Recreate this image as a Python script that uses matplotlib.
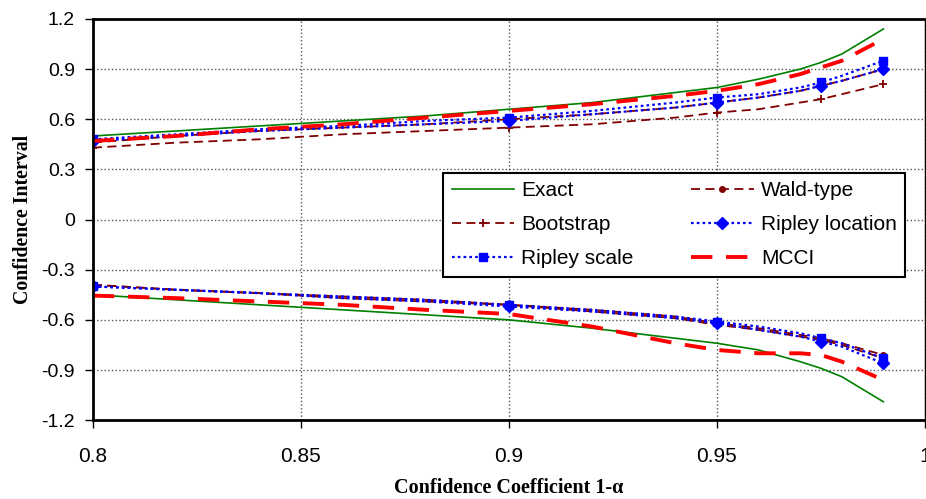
import matplotlib
matplotlib.use('Agg')
import matplotlib.pyplot as plt

# confidence coefficient grid
conf = [0.80, 0.82, 0.84, 0.86, 0.88, 0.90, 0.92, 0.94, 0.95, 0.96, 0.97, 0.975, 0.98, 0.99]
mark_idx = [0, 5, 8, 11, 13]

# upper limits
exact_up = [0.50, 0.53, 0.56, 0.59, 0.62, 0.66, 0.70, 0.76, 0.79, 0.84, 0.90, 0.94, 0.99, 1.14]
wald_up = [0.46, 0.50, 0.53, 0.55, 0.57, 0.60, 0.63, 0.67, 0.70, 0.73, 0.77, 0.80, 0.83, 0.90]
boot_up = [0.43, 0.46, 0.48, 0.51, 0.53, 0.55, 0.57, 0.61, 0.64, 0.66, 0.70, 0.72, 0.75, 0.81]
rip_loc_up = [0.47, 0.50, 0.53, 0.55, 0.57, 0.59, 0.63, 0.67, 0.70, 0.73, 0.77, 0.80, 0.83, 0.90]
rip_scale_up = [0.48, 0.51, 0.54, 0.56, 0.59, 0.61, 0.65, 0.70, 0.73, 0.75, 0.79, 0.82, 0.86, 0.95]
mcci_up = [0.47, 0.50, 0.54, 0.57, 0.61, 0.65, 0.69, 0.74, 0.77, 0.81, 0.87, 0.91, 0.95, 1.08]

# lower limits
exact_lo = [-0.45, -0.48, -0.51, -0.54, -0.57, -0.60, -0.65, -0.71, -0.74, -0.78, -0.85, -0.89, -0.94, -1.09]
wald_lo = [-0.39, -0.42, -0.44, -0.46, -0.48, -0.51, -0.54, -0.58, -0.62, -0.65, -0.69, -0.71, -0.74, -0.81]
boot_lo = [-0.39, -0.42, -0.44, -0.47, -0.49, -0.51, -0.55, -0.59, -0.63, -0.66, -0.70, -0.72, -0.75, -0.83]
rip_loc_lo = [-0.40, -0.42, -0.44, -0.47, -0.49, -0.52, -0.55, -0.59, -0.62, -0.66, -0.70, -0.73, -0.76, -0.86]
rip_scale_lo = [-0.40, -0.42, -0.44, -0.46, -0.48, -0.51, -0.54, -0.58, -0.61, -0.64, -0.68, -0.71, -0.74, -0.83]
mcci_lo = [-0.455, -0.47, -0.49, -0.51, -0.54, -0.565, -0.64, -0.74, -0.78, -0.80, -0.80, -0.81, -0.85, -0.96]

xticks = [0.8, 0.85, 0.9, 0.95, 1.0]
xtick_labels = ['0.8', '0.85', '0.9', '0.95', '1']
yticks = [-1.2, -0.9, -0.6, -0.3, 0, 0.3, 0.6, 0.9, 1.2]
ytick_labels = ['-1.2', '-0.9', '-0.6', '-0.3', '0', '0.3', '0.6', '0.9', '1.2']

plt.rcParams['font.family'] = ['Liberation Sans', 'DejaVu Sans']

fig = plt.figure(figsize=(9.26, 4.99), dpi=100)
ax = fig.add_axes([0.1004, 0.158, 0.8985, 0.804])

styles = {
    'Exact': dict(color='#008000', lw=1.2, ls='-'),
    'Wald-type': dict(color='#800000', lw=1.3, dashes=(5, 3), marker='o', ms=4, markevery=mark_idx),
    'Bootstrap': dict(color='#800000', lw=1.3, dashes=(5, 3), marker='+', ms=6, mew=1.3, markevery=mark_idx),
    'Ripley location': dict(color='#0000FF', lw=1.6, dashes=(1.2, 1.4), marker='D', ms=6, markevery=mark_idx),
    'Ripley scale': dict(color='#0000FF', lw=1.6, dashes=(1.2, 1.4), marker='s', ms=5.5, markevery=mark_idx),
    'MCCI': dict(color='#FF0000', lw=2.8, dashes=(5.5, 3.5)),
}
series = [
    ('Exact', exact_up, exact_lo),
    ('Wald-type', wald_up, wald_lo),
    ('Bootstrap', boot_up, boot_lo),
    ('Ripley location', rip_loc_up, rip_loc_lo),
    ('Ripley scale', rip_scale_up, rip_scale_lo),
    ('MCCI', mcci_up, mcci_lo),
]

handles = {}
for name, up, lo in series:
    st = styles[name]
    h, = ax.plot(conf, up, label=name, **st)
    ax.plot(conf, lo, **st)
    handles[name] = h

ax.set_xlim(0.8, 1.0)
ax.set_ylim(-1.2, 1.2)
ax.set_xticks(xticks)
ax.set_xticklabels(xtick_labels)
ax.set_yticks(yticks)
ax.set_yticklabels(ytick_labels)
ax.tick_params(axis='both', direction='out', length=6, width=1)
ax.tick_params(axis='x', pad=13, labelsize=15)
ax.tick_params(axis='y', pad=7, labelsize=14)

ax.grid(True, color='#555555', ls=':', lw=1.0)
ax.set_axisbelow(True)
for side in ['left', 'bottom', 'top']:
    ax.spines[side].set_linewidth(2)
ax.spines['right'].set_linewidth(1)

ax.set_xlabel('Confidence Coefficient 1-α', family=['Liberation Serif', 'DejaVu Serif'],
              fontweight='bold', fontsize=14.5, labelpad=9)
ax.set_ylabel('Confidence Interval', family=['Liberation Serif', 'DejaVu Serif'],
              fontweight='bold', fontsize=14.3)
ax.yaxis.set_label_coords(-0.072, 0.5)

order = ['Exact', 'Bootstrap', 'Ripley scale', 'Wald-type', 'Ripley location', 'MCCI']
leg = ax.legend([handles[n] for n in order], order, ncol=2, loc='upper left',
                bbox_to_anchor=(0.421, 0.616, 0.555, 0.0), mode='expand', borderaxespad=0,
                fontsize=15, handlelength=3.0, handletextpad=0.35, columnspacing=1.5,
                labelspacing=0.72, frameon=True, fancybox=False, framealpha=1, borderpad=0.4)
leg.get_frame().set_edgecolor('black')
leg.get_frame().set_linewidth(1.5)

fig.savefig('out.png', dpi=100)
